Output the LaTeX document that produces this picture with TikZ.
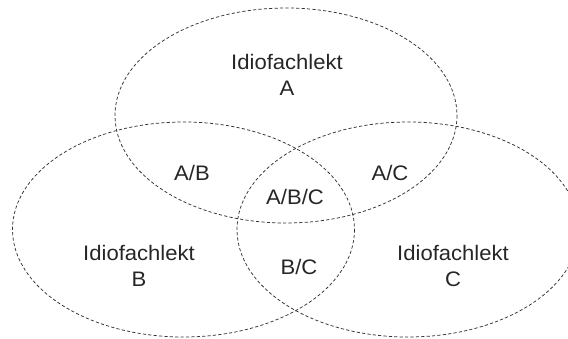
\documentclass[tikz,border=0pt]{standalone}
\usepackage{graphicx}
\usepackage{fontspec}
\setmainfont{Liberation Sans}
\newcommand{\stretchtxt}[1]{\scalebox{1.05}[1]{#1}}
\begin{document}
\begin{tikzpicture}[x=1pt,y=-1pt,
  setline/.style={draw=black!80,line width=0.75pt,dash pattern=on 3.2pt off 2.2pt},
  lbl/.style={inner sep=0pt,align=center,font=\fontsize{21}{26}\selectfont,text=black!85}]
\useasboundingbox (0,0) rectangle (568,338);
\clip (0,0) rectangle (568,338);
\draw[setline] (286,115.5) ellipse [x radius=171,y radius=107.5];
\draw[setline] (183.5,229.5) ellipse [x radius=171,y radius=107.5];
\draw[setline] (408,229.5) ellipse [x radius=171,y radius=107.5];
\node[lbl] (ia) at (287,75) {\stretchtxt{Idiofachlekt}\\\stretchtxt{A}};
\node[lbl] (ib) at (139,266) {\stretchtxt{Idiofachlekt}\\\stretchtxt{B}};
\node[lbl] (ic) at (453,266) {\stretchtxt{Idiofachlekt}\\\stretchtxt{C}};
\node[lbl] (ab) at (192,173) {\stretchtxt{A/B}};
\node[lbl] (ac) at (390,173) {\stretchtxt{A/C}};
\node[lbl] (abc) at (295,197) {\stretchtxt{A/B/C}};
\node[lbl] (bc) at (299,267) {\stretchtxt{B/C}};
\end{tikzpicture}
\end{document}
